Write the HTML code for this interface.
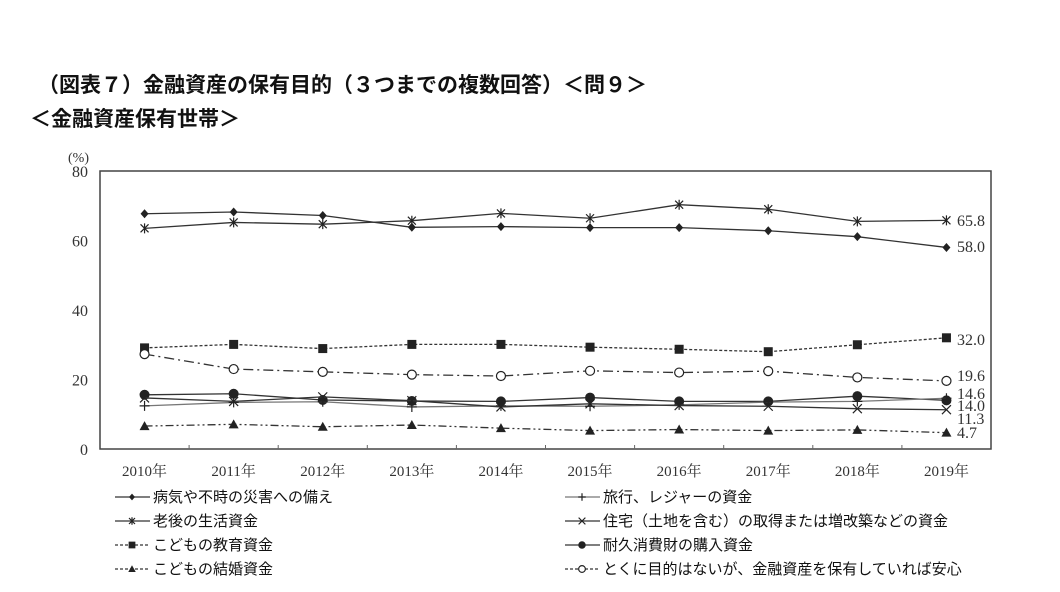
<!DOCTYPE html>
<html><head><meta charset="utf-8"><style>
body{margin:0;background:#fff;width:1060px;height:592px;overflow:hidden}
svg{display:block}
.t{font-family:"Liberation Sans","Noto Sans CJK JP",sans-serif;fill:#111}
.s{font-family:"Liberation Serif","Noto Serif CJK SC",serif;fill:#333}
</style></head><body>
<svg id="c" width="1060" height="592">
<text class="t" x="38" y="92" font-size="21" font-weight="bold">（図表７）金融資産の保有目的（３つまでの複数回答）＜問９＞</text>
<text class="t" x="30" y="126" font-size="21" font-weight="bold">＜金融資産保有世帯＞</text>
<text class="s" x="68" y="162" font-size="14">(%)</text>
</svg>
<script>
const categories=['2010年','2011年','2012年','2013年','2014年','2015年','2016年','2017年','2018年','2019年'];
const yTicks=[0,20,40,60,80];
const illness=[67.7,68.2,67.2,63.8,64.0,63.7,63.7,62.8,61.1,58.0];
const retirement=[63.5,65.2,64.7,65.7,67.8,66.4,70.3,69.0,65.5,65.8];
const education=[29.1,30.1,28.9,30.1,30.1,29.3,28.7,28.0,30.0,32.0];
const relief=[27.3,23.0,22.2,21.4,21.0,22.5,22.0,22.4,20.6,19.6];
const durables=[15.6,15.9,14.1,13.8,13.7,14.8,13.7,13.7,15.2,14.0];
const travel=[12.4,13.4,13.6,12.1,12.4,12.3,12.7,13.5,13.7,14.6];
const housing=[14.7,13.7,15.0,13.9,12.1,13.0,12.5,12.3,11.6,11.3];
const marriage=[6.6,7.1,6.4,6.9,6.0,5.3,5.6,5.3,5.5,4.7];
const endLabels=['58.0','65.8','32.0','19.6','14.0','14.6','11.3','4.7'];
const endLabelY=[252,226,345,381,411,399,424,438];

const NS='http://www.w3.org/2000/svg',svg=document.getElementById('c');
const L=100,R=991,T=171,B=449;
const bw=(R-L)/categories.length;
const x=i=>L+bw*(i+0.5);
const y=v=>B-(v/80)*(B-T);
function mk(tag,a,p){const e=document.createElementNS(NS,tag);for(const k in a)e.setAttribute(k,a[k]);(p||svg).appendChild(e);return e;}
const frame=mk('rect',{x:L,y:T,width:R-L,height:B-T,fill:'none',stroke:'#444','stroke-width':1.5});


yTicks.forEach(v=>{const t=mk('text',{x:88,y:y(v)+6,'text-anchor':'end','font-size':16,class:'s'});t.textContent=v;

});
categories.forEach((c,i)=>{
 if(i>0){const tk=mk('line',{x1:L+bw*i,x2:L+bw*i,y1:B,y2:B-4,stroke:'#666'});
 
 }
 const t=mk('text',{x:x(i),y:476,'text-anchor':'middle','font-size':15,class:'s'});t.textContent=c;
 
 
});
function marker(g,type,cx,cy,k){
 k=k||1;
 const st={stroke:'#222','stroke-width':1.2};
 if(type==='diamond')mk('path',{d:`M${cx} ${cy-4.5*k}L${cx+4*k} ${cy}L${cx} ${cy+4.5*k}L${cx-4*k} ${cy}Z`,fill:'#222'},g);
 else if(type==='ast'){mk('path',Object.assign({d:`M${cx-4*k} ${cy-4*k}L${cx+4*k} ${cy+4*k}M${cx-4*k} ${cy+4*k}L${cx+4*k} ${cy-4*k}M${cx} ${cy-5*k}L${cx} ${cy+5*k}`,fill:'none'},st),g);}
 else if(type==='square')mk('rect',{x:cx-4.5*k,y:cy-4.5*k,width:9*k,height:9*k,fill:'#222'},g);
 else if(type==='open')mk('circle',{cx,cy,r:4.5*k,fill:'#fff',stroke:'#222','stroke-width':1.2},g);
 else if(type==='dot')mk('circle',{cx,cy,r:5*k,fill:'#222'},g);
 else if(type==='plus')mk('path',Object.assign({d:`M${cx-5*k} ${cy}L${cx+5*k} ${cy}M${cx} ${cy-5*k}L${cx} ${cy+5*k}`,fill:'none'},st),g);
 else if(type==='x')mk('path',Object.assign({d:`M${cx-4.5*k} ${cy-4.5*k}L${cx+4.5*k} ${cy+4.5*k}M${cx-4.5*k} ${cy+4.5*k}L${cx+4.5*k} ${cy-4.5*k}`,fill:'none'},st),g);
 else if(type==='tri')mk('path',{d:`M${cx} ${cy-5*k}L${cx+5*k} ${cy+4*k}L${cx-5*k} ${cy+4*k}Z`,fill:'#222'},g);
}
const series=[
 {name:'illness',data:illness,m:'diamond',dash:'',label:'病気や不時の災害への備え',col:0,row:0},
 {name:'retirement',data:retirement,m:'ast',dash:'',label:'老後の生活資金',col:0,row:1},
 {name:'education',data:education,m:'square',dash:'3,2',label:'こどもの教育資金',col:0,row:2},
 {name:'relief',data:relief,m:'open',dash:'10,4,2,4',label:'とくに目的はないが、金融資産を保有していれば安心',col:1,row:3},
 {name:'durables',data:durables,m:'dot',dash:'',label:'耐久消費財の購入資金',col:1,row:2},
 {name:'travel',data:travel,m:'plus',dash:'',label:'旅行、レジャーの資金',col:1,row:0,c:'#777'},
 {name:'housing',data:housing,m:'x',dash:'',label:'住宅（土地を含む）の取得または増改築などの資金',col:1,row:1},
 {name:'marriage',data:marriage,m:'tri',dash:'8,3,2,3,2,3',label:'こどもの結婚資金',col:0,row:3}
];
series.forEach((s,si)=>{
 const g=mk('g',{});
 
 
 mk('polyline',{points:s.data.map((v,i)=>x(i)+','+y(v)).join(' '),fill:'none',stroke:s.c||'#333','stroke-width':1.3,'stroke-dasharray':s.dash},g);
 s.data.forEach((v,i)=>marker(g,s.m,x(i),y(v)));
 const el=mk('text',{x:957,y:endLabelY[si],'font-size':16,class:'s'});el.textContent=endLabels[si];
 
 
 const lx=s.col?565:115,ly=497+s.row*24;
 const lg=mk('g',{});
 
 
 mk('line',{x1:lx,x2:lx+35,y1:ly,y2:ly,stroke:s.c||'#333','stroke-width':1.3,'stroke-dasharray':s.dash?'3,2':''},lg);
 marker(lg,s.m,lx+17,ly,0.75);
 const lt=mk('text',{x:lx+38,y:ly+5,'font-size':15,class:'t'},lg);lt.textContent=s.label;
});
</script>
</body></html>
